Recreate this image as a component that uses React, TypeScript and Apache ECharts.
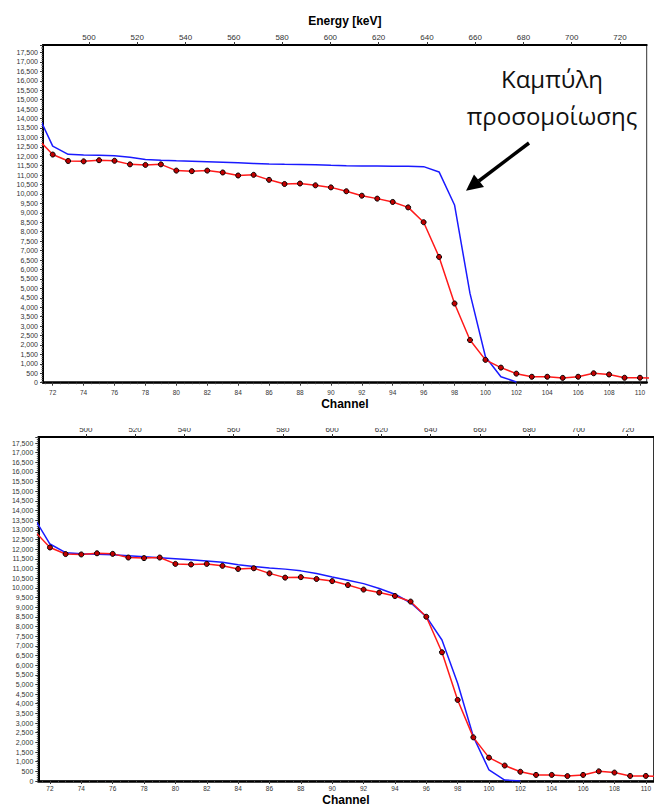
import React, { useEffect, useRef } from "react";
import * as echarts from "echarts";

// Channel numbers (71 and 111 lie just outside the visible range; the lines run to the plot edges)
const channels = [71, 72, 73, 74, 75, 76, 77, 78, 79, 80, 81, 82, 83, 84, 85, 86, 87, 88, 89, 90, 91, 92, 93, 94, 95, 96, 97, 98, 99, 100, 101, 102, 103, 104, 105, 106, 107, 108, 109, 110, 111];

// Measured spectrum (red, with markers) – same in both panels
const measured = [12950, 12090, 11750, 11730, 11790, 11760, 11570, 11540, 11570, 11240, 11210, 11240, 11140, 10980, 11015, 10750, 10530, 10555, 10460, 10350, 10145, 9910, 9755, 9578, 9290, 8505, 6665, 4197, 2260, 1210, 800, 480, 315, 315, 255, 315, 500, 435, 262, 262, 240];

// Simulation curve, top panel (blue), channels 71..102
const simulation = [14290, 12535, 12100, 12066, 12050, 12030, 11945, 11830, 11790, 11760, 11740, 11710, 11680, 11650, 11620, 11590, 11570, 11560, 11545, 11520, 11500, 11490, 11480, 11470, 11465, 11450, 11170, 9420, 4730, 1376, 317, 40];

// Fitted simulation curve, bottom panel (blue), channels 71..102
const fitted = [13610, 12270, 11820, 11770, 11735, 11710, 11660, 11610, 11560, 11510, 11450, 11390, 11320, 11200, 11110, 11030, 10970, 10880, 10740, 10560, 10390, 10220, 9970, 9670, 9230, 8510, 7300, 5060, 2300, 570, 50, 0];

const channelTicks = [72, 74, 76, 78, 80, 82, 84, 86, 88, 90, 92, 94, 96, 98, 100, 102, 104, 106, 108, 110];
const energyTicks = [500, 520, 540, 560, 580, 600, 620, 640, 660, 680, 700, 720];

const FONT = "'Liberation Sans', Arial, sans-serif";
const LABEL_COLOR = "#333";

const halfTicks: number[] = [];
for (let c = 71.5; c <= 110.5; c += 0.5) halfTicks.push(c);

const yFmt = (v: number) => (v % 500 === 0 ? v.toLocaleString("en-US") : "");

function panelAxes(
  grid: number,
  chMin: number,
  chMax: number,
  eMin: number,
  eMax: number,
  yMax: number,
  showEnergyName: boolean,
  channelLabelMargin: number,
  channelNameGap: number
) {
  const xAxes: any[] = [
    {
      type: "value",
      gridIndex: grid,
      position: "bottom",
      min: chMin,
      max: chMax,
      axisLine: { show: true, onZero: false, lineStyle: { color: "#000", width: 2.5 } },
      axisTick: { show: true, customValues: channelTicks, length: 3, lineStyle: { color: "#333" } },
      axisLabel: {
        show: true,
        customValues: channelTicks,
        fontSize: 6.5,
        fontFamily: FONT,
        color: LABEL_COLOR,
        margin: channelLabelMargin,
        hideOverlap: false,
      },
      splitLine: { show: false },
      name: "Channel",
      nameLocation: "middle",
      nameGap: channelNameGap,
      nameTextStyle: { fontFamily: FONT, fontWeight: "bold", fontSize: 12, color: "#000" },
    },
    {
      type: "value",
      gridIndex: grid,
      position: "bottom",
      min: chMin,
      max: chMax,
      axisLine: { show: false, onZero: false },
      axisTick: { show: true, customValues: halfTicks, length: 1.5, lineStyle: { color: "#444" } },
      axisLabel: { show: false },
      splitLine: { show: false },
    },
    {
      type: "value",
      gridIndex: grid,
      position: "top",
      min: eMin,
      max: eMax,
      axisLine: { show: true, onZero: false, lineStyle: { color: "#000", width: 2 } },
      axisTick: { show: true, customValues: energyTicks, length: 3, lineStyle: { color: "#333" } },
      axisLabel: {
        show: true,
        customValues: energyTicks,
        fontSize: 8,
        fontFamily: FONT,
        color: LABEL_COLOR,
        margin: 4,
        hideOverlap: false,
      },
      splitLine: { show: false },
      name: showEnergyName ? "Energy [keV]" : "",
      nameLocation: "middle",
      nameGap: 18,
      nameTextStyle: { fontFamily: FONT, fontWeight: "bold", fontSize: 12, color: "#000" },
    },
  ];
  const yAxis = {
    type: "value",
    gridIndex: grid,
    min: 0,
    max: yMax,
    interval: 500,
    axisLine: { show: true, onZero: false, lineStyle: { color: "#000", width: 2 } },
    axisTick: { show: true, length: 3, lineStyle: { color: "#333" } },
    minorTick: { show: true, splitNumber: 5, length: 1.5, lineStyle: { color: "#555" } },
    axisLabel: {
      fontSize: 7,
      fontFamily: FONT,
      color: LABEL_COLOR,
      margin: 5,
      formatter: yFmt,
      hideOverlap: false,
    },
    splitLine: { show: false },
  };
  return { xAxes, yAxis };
}

export default function App() {
  const ref = useRef<HTMLDivElement>(null);

  useEffect(() => {
    if (!ref.current) return;
    const chart = echarts.init(ref.current, undefined, { renderer: "svg" });

    const top = panelAxes(0, 71.372, 110.434, 480.94, 731.06, 17896, true, 6, 15);
    const bottom = panelAxes(1, 71.257, 110.49, 480.71, 730.5, 17811, false, 4, 13);

    const measuredData = channels.map((c, i) => [c, measured[i]]);
    const simData = simulation.map((v, i) => [channels[i], v]);
    const fitData = fitted.map((v, i) => [channels[i], v]);

    const redSeries = (xi: number, yi: number) => ({
      type: "line",
      xAxisIndex: xi,
      yAxisIndex: yi,
      data: measuredData,
      clip: true,
      symbol: "circle",
      symbolSize: 5,
      showAllSymbol: true,
      lineStyle: { color: "#ff1a1a", width: 1.5 },
      itemStyle: { color: "#c00000", borderColor: "#000", borderWidth: 1 },
      z: 3,
    });
    const blueSeries = (xi: number, yi: number, data: number[][]) => ({
      type: "line",
      xAxisIndex: xi,
      yAxisIndex: yi,
      data,
      clip: true,
      symbol: "none",
      lineStyle: { color: "#1a1aff", width: 1.5 },
      z: 2,
    });

    chart.setOption({
      animation: false,
      backgroundColor: "#fff",
      grid: [
        { left: 43, top: 45, width: 603.7, height: 337.7, show: true, borderColor: "#333", borderWidth: 1, backgroundColor: "transparent" },
        { left: 38.3, top: 437, width: 617.7, height: 344, show: true, borderColor: "#333", borderWidth: 1, backgroundColor: "transparent" },
      ],
      xAxis: [...top.xAxes, ...bottom.xAxes],
      yAxis: [top.yAxis, bottom.yAxis],
      series: [
        blueSeries(0, 0, simData),
        redSeries(0, 0),
        blueSeries(3, 1, fitData),
        redSeries(3, 1),
      ],
      graphic: [
        {
          type: "text",
          x: 552,
          y: 78,
          z: 100,
          style: {
            text: "Καμπύλη",
            font: "24px 'Open Sans', 'Noto Sans', sans-serif",
            fill: "#111",
            textAlign: "center",
            textVerticalAlign: "middle",
          },
        },
        {
          type: "text",
          x: 552,
          y: 115,
          z: 100,
          style: {
            text: "προσομοίωσης",
            font: "24px 'Open Sans', 'Noto Sans', sans-serif",
            fill: "#111",
            textAlign: "center",
            textVerticalAlign: "middle",
          },
        },
        {
          type: "line",
          z: 100,
          shape: { x1: 529, y1: 143, x2: 478.8, y2: 181 },
          style: { stroke: "#000", lineWidth: 3.5 },
        },
        {
          type: "polygon",
          z: 100,
          shape: { points: [[466, 190.7], [484, 187], [474, 174.5]] },
          style: { fill: "#000" },
        },
        {
          type: "rect",
          z: 100,
          shape: { x: 0, y: 414, width: 654, height: 14 },
          style: { fill: "#fff" },
        },
      ],
    });

    return () => chart.dispose();
  }, []);

  return (
    <div
      ref={ref}
      style={{ position: "fixed", left: 0, top: 0, width: 654, height: 807, background: "#fff" }}
    />
  );
}
